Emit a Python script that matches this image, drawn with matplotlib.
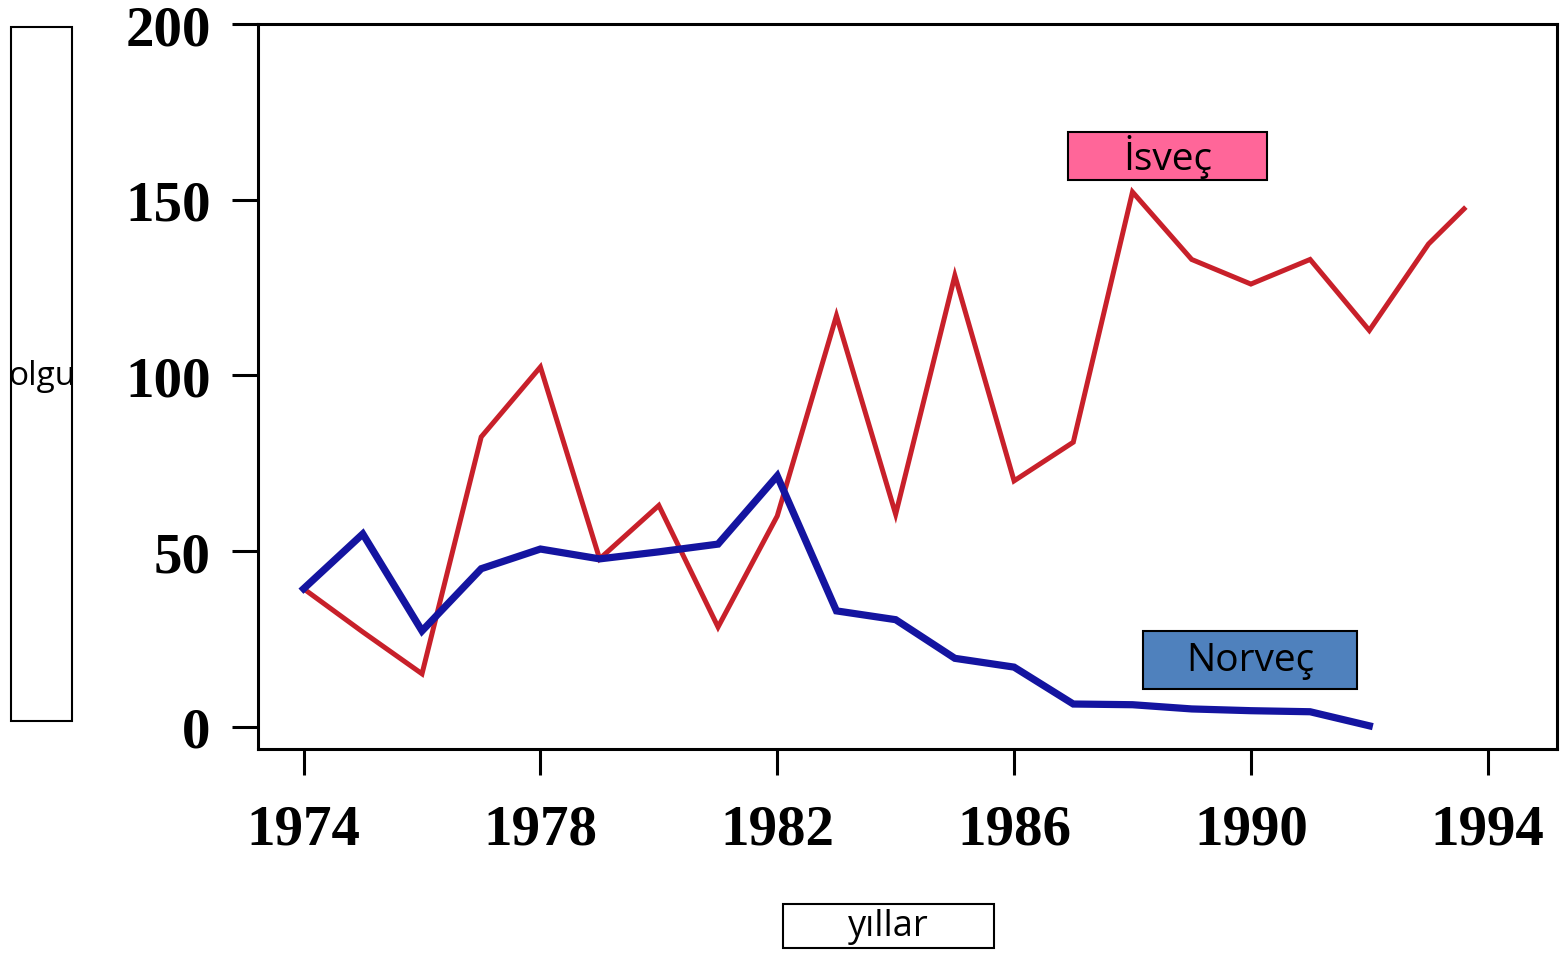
import matplotlib
matplotlib.use("Agg")
import matplotlib.pyplot as plt
from matplotlib.patches import Rectangle

# yearly case counts
years_isvec = [1974, 1975, 1976, 1977, 1978, 1979, 1980, 1981, 1982, 1983, 1984,
               1985, 1986, 1987, 1988, 1989, 1990, 1991, 1992, 1993, 1993.6]
isvec = [39.3, 27, 15.1, 82.5, 102.4, 47.8, 63, 28.4, 60, 117, 60.5,
         128.4, 70, 81, 152.2, 133, 126, 133, 112.8, 137.4, 147.4]

years_norvec = [1974, 1975, 1976, 1977, 1978, 1979, 1980, 1981, 1982, 1983,
                1984, 1985, 1986, 1987, 1988, 1989, 1990, 1991, 1992]
norvec = [39.3, 54.9, 27.3, 45, 50.6, 47.8, 49.8, 52, 71.4, 33,
          30.5, 19.5, 17, 6.5, 6.3, 5.1, 4.6, 4.3, 0.3]

x_ticks = [1974, 1978, 1982, 1986, 1990, 1994]
y_ticks = [0, 50, 100, 150, 200]

W, H = 1566, 954
fig = plt.figure(figsize=(W / 100, H / 100), dpi=100)
ax = fig.add_axes([258 / W, 1 - 750 / H, (1557 - 258) / W, (750 - 25) / H])

ax.plot(years_isvec, isvec, color='#c8202a', lw=3.6, solid_joinstyle='miter')
ax.plot(years_norvec, norvec, color='#1414a0', lw=5.2, solid_joinstyle='miter')

ax.set_xlim(1973.23, 1995.17)
ax.set_ylim(-6.3, 200)
ax.set_xticks(x_ticks)
ax.set_yticks(y_ticks)

for s in ax.spines.values():
    s.set_linewidth(2.2)
ax.tick_params(axis='both', direction='out', length=19, width=2.2)
ax.tick_params(axis='x', pad=20)
ax.tick_params(axis='y', pad=15)
for lab in ax.get_xticklabels() + ax.get_yticklabels():
    lab.set_fontfamily('Liberation Serif')
    lab.set_fontweight('bold')
    lab.set_fontsize(41)


def label_box(x0, y0, x1, y1, text, fc, size, tx=None, ty=None):
    # box in image pixel coordinates (origin top-left)
    fig.add_artist(Rectangle((x0 / W, 1 - y1 / H), (x1 - x0) / W, (y1 - y0) / H,
                             transform=fig.transFigure, facecolor=fc,
                             edgecolor='black', linewidth=1.5))
    if tx is None:
        tx = (x0 + x1) / 2
    if ty is None:
        ty = (y0 + y1) / 2
    fig.text(tx / W, 1 - ty / H, text, ha='center', va='center',
             fontsize=size, family='Open Sans', color='black')


label_box(11, 28, 72, 722, 'olgu', 'white', 24, ty=377)
label_box(783, 905, 994, 949, 'yıllar', 'white', 26)
label_box(1068, 133, 1267, 181, 'İsveç', '#ff6699', 28)
label_box(1143, 632, 1357, 690, 'Norveç', '#4f81bd', 28)

fig.savefig('out.png', dpi=100)
